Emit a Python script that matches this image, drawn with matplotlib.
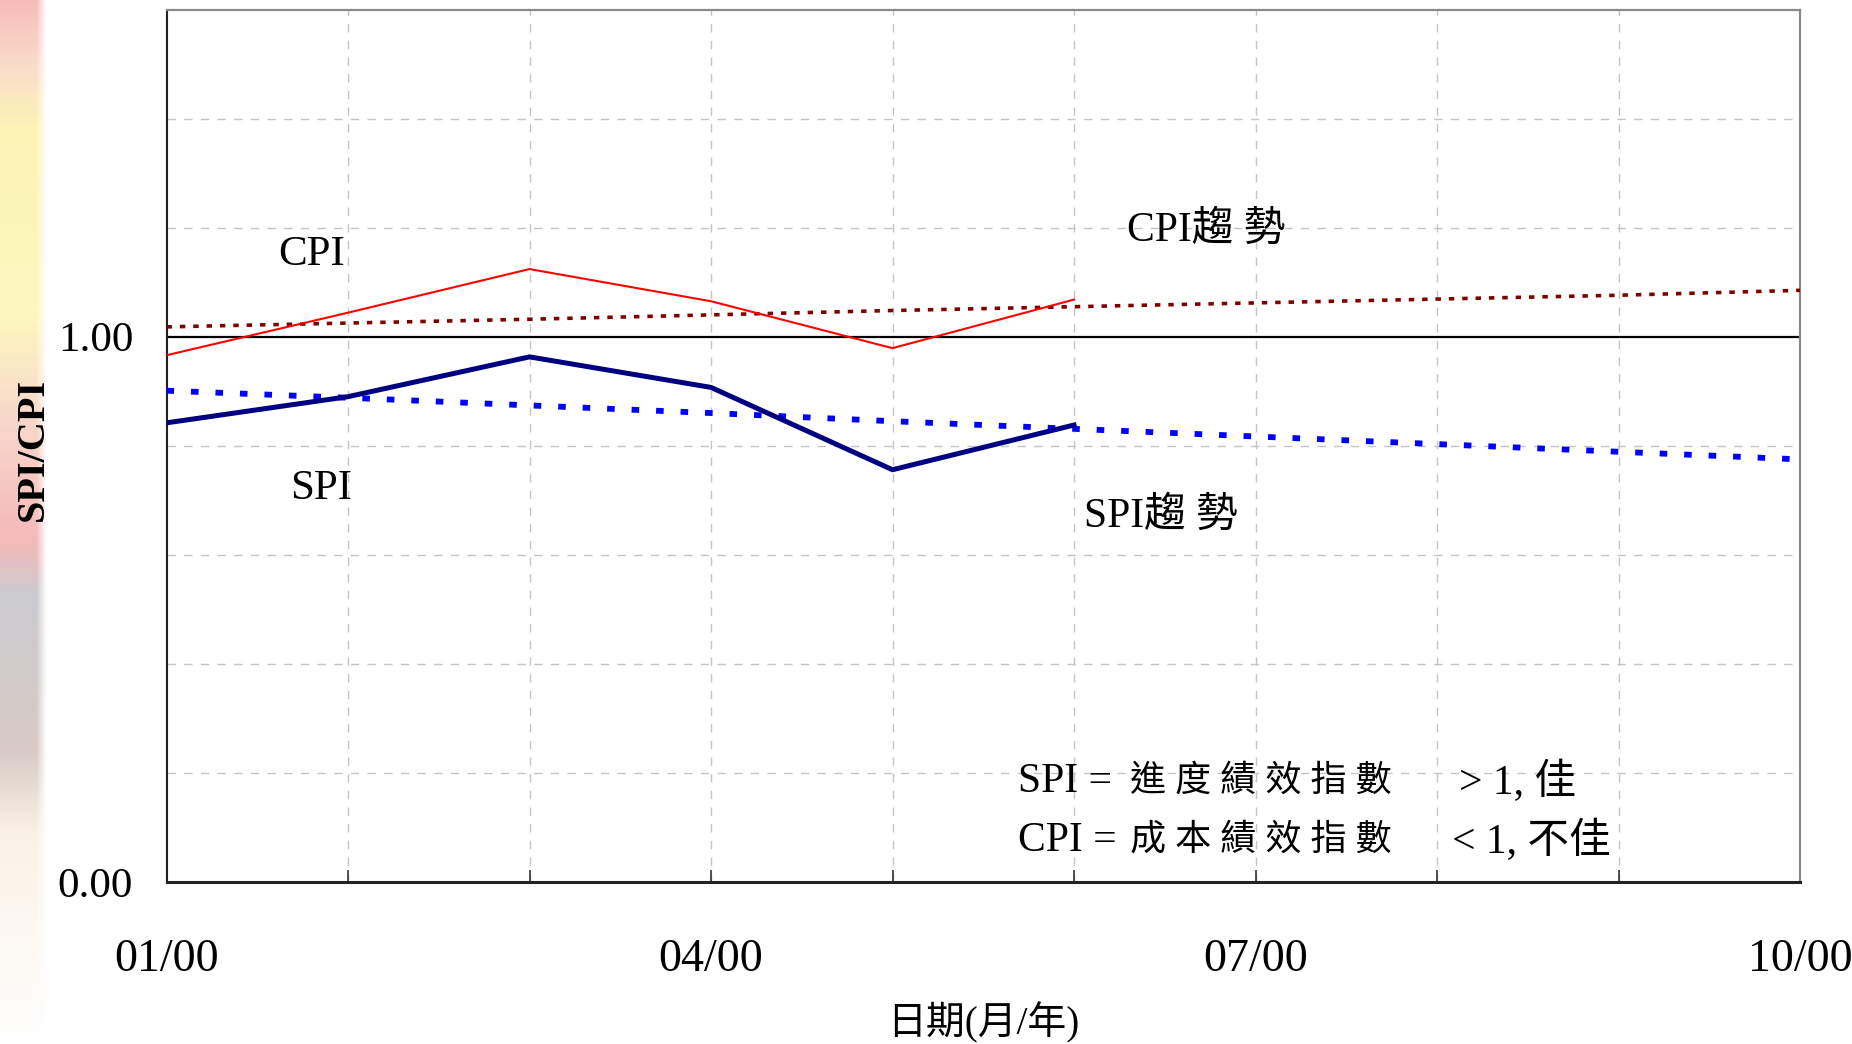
import numpy as np
import matplotlib
matplotlib.use("Agg")
import matplotlib.pyplot as plt
from matplotlib.colors import LinearSegmentedColormap

plt.rcParams['font.family'] = ['Liberation Serif', 'Noto Sans CJK TC', 'DejaVu Sans']

# ---- data -------------------------------------------------------------
months = [0, 1, 2, 3, 4, 5]                       # Jan .. Jun 2000
cpi = [0.966, 1.044, 1.124, 1.065, 0.979, 1.068]
spi = [0.842, 0.890, 0.963, 0.907, 0.756, 0.838]

trend_months = [0, 1, 2, 3, 4, 5, 6, 7, 8, 9]     # Jan .. Oct 2000
cpi_trend = [1.018, 1.025, 1.032, 1.040, 1.048, 1.055, 1.062, 1.069, 1.076, 1.085]
spi_trend = [0.901, 0.888, 0.874, 0.860, 0.845, 0.831, 0.817, 0.803, 0.789, 0.775]

xtick_pos = [0, 3, 6, 9]
xtick_labels = ['01/00', '04/00', '07/00', '10/00']
ytick_pos = [0.0, 1.0]
ytick_labels = ['0.00', '1.00']
baseline = 1.0

# ---- figure -----------------------------------------------------------
W, H = 1852, 1044
fig = plt.figure(figsize=(W / 100, H / 100), dpi=100)
fig.patch.set_facecolor('white')

# faded template strip along the left edge
bg = fig.add_axes([0, 0, 46 / W, 1], zorder=0)
stops = [(0.00, (0.96, 0.70, 0.68)), (0.06, (0.98, 0.84, 0.76)),
         (0.12, (0.99, 0.95, 0.66)), (0.30, (0.99, 0.97, 0.70)),
         (0.40, (0.97, 0.82, 0.76)), (0.52, (0.95, 0.68, 0.68)),
         (0.57, (0.76, 0.76, 0.78)), (0.72, (0.82, 0.76, 0.74)),
         (0.80, (0.98, 0.94, 0.88)), (1.00, (1.0, 1.0, 1.0))]
cmap = LinearSegmentedColormap.from_list('strip', stops)
rows = np.linspace(0, 1, 400)[:, None]
img = cmap(np.repeat(rows, 46, axis=1))
fade = np.clip((46 - np.arange(46)) / 10.0, 0, 1)
img[..., 3] = fade[None, :] * 0.85
bg.imshow(img, aspect='auto', extent=[0, 1, 0, 1], interpolation='bilinear')
bg.set_axis_off()

ax = fig.add_axes([166.5 / W, 1 - 882 / H, (1800 - 166.5) / W, (882 - 9.5) / H], zorder=1)
ax.set_xlim(0, 9)
ax.set_ylim(0, 1.6)
ax.patch.set_alpha(0)

# grid
for gx in range(1, 9):
    ax.axvline(gx, color='#c4c4c4', lw=1.0, ls=(0, (6, 6)), zorder=1)
for gy in [0.2, 0.4, 0.6, 0.8, 1.2, 1.4]:
    ax.axhline(gy, color='#c4c4c4', lw=1.0, ls=(0, (6, 6)), zorder=1)

ax.axhline(baseline, color='black', lw=1.6, zorder=2)

ax.plot(trend_months, cpi_trend, color='#800000', lw=2.6,
        ls=(0, (1.5, 2.2)), dash_capstyle='butt', zorder=3)
ax.plot(trend_months, spi_trend, color='#0000ff', lw=4.2,
        ls=(0, (1.3, 2.9)), dash_capstyle='butt', zorder=3)
ax.plot(months, cpi, color='#ff0000', lw=1.5, zorder=4)
ax.plot(months, spi, color='#000080', lw=3.6, zorder=4)

# spines
for s in ['top', 'right']:
    ax.spines[s].set_color('#8a8a8a')
    ax.spines[s].set_linewidth(1.6)
ax.spines['left'].set_color('#222222')
ax.spines['left'].set_linewidth(1.5)
ax.spines['bottom'].set_color('#222222')
ax.spines['bottom'].set_linewidth(2.2)

# ticks
ax.set_xticks(range(10))
ax.set_xticklabels([xtick_labels[xtick_pos.index(i)] if i in xtick_pos else '' for i in range(10)])
ax.set_yticks([0.0, 0.2, 0.4, 0.6, 0.8, 1.0, 1.2, 1.4, 1.6])
ax.set_yticklabels([ytick_labels[ytick_pos.index(v)] if v in ytick_pos else ''
                    for v in [0.0, 0.2, 0.4, 0.6, 0.8, 1.0, 1.2, 1.4, 1.6]])
ax.tick_params(axis='x', direction='in', length=9, width=1.2, color='#333333',
               labelsize=33, pad=41)
ax.tick_params(axis='y', direction='in', length=0, labelsize=31, pad=24)

ax.set_xlabel('日期(月/年)', fontsize=28, labelpad=15)
fig.text(33 / W, 1 - 449 / H, 'SPI/CPI', rotation=90, ha='center', va='center',
         fontsize=29, fontweight='bold')

# series labels
ax.text(0.80, 1.15, 'CPI', fontsize=31, ha='center', va='center')
ax.text(0.85, 0.722, 'SPI', fontsize=31, ha='center', va='center')
ax.text(5.73, 1.195, 'CPI趨 勢', fontsize=30, ha='center', va='center')
ax.text(5.48, 0.67, 'SPI趨 勢', fontsize=30, ha='center', va='center')

# legend of index meaning
ax.text(4.69, 0.183, 'SPI =', fontsize=30, ha='left', va='center')
ax.text(5.31, 0.183, '進 度 績 效 指 數', fontsize=26, ha='left', va='center')
ax.text(7.12, 0.183, '> 1, 佳', fontsize=30, ha='left', va='center')
ax.text(4.69, 0.076, 'CPI =', fontsize=30, ha='left', va='center')
ax.text(5.31, 0.076, '成 本 績 效 指 數', fontsize=26, ha='left', va='center')
ax.text(7.08, 0.076, '< 1, 不佳', fontsize=30, ha='left', va='center')

fig.savefig('out.png', dpi=100)
